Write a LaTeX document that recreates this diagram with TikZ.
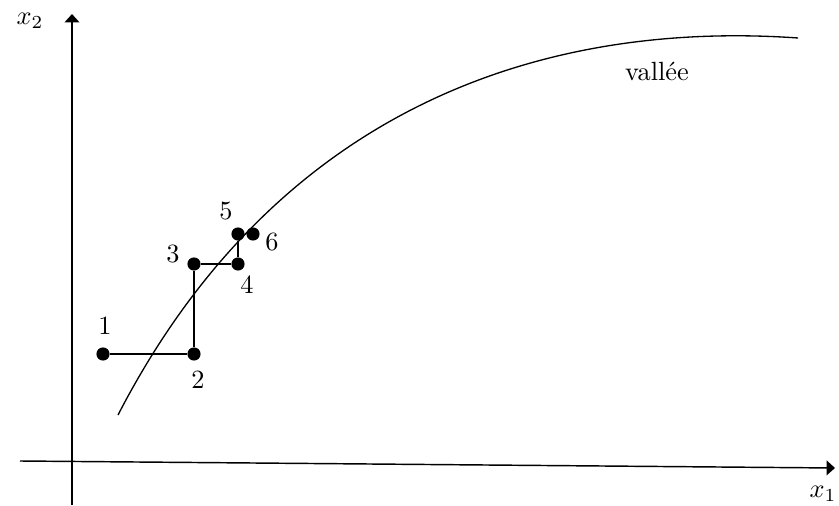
\documentclass[tikz,border=0pt]{standalone}
\usetikzlibrary{arrows.meta}
\begin{document}
\begin{tikzpicture}[x=0.38pt,y=-0.38pt,
  dot/.style={circle,fill=black,inner sep=0pt,minimum size=5pt},
  lbl/.style={inner sep=0pt,font=\normalsize},
  axis/.style={line width=0.55pt,-{Triangle[length=3.2pt,width=5.6pt]}},
  seg/.style={line width=0.5pt}]
\useasboundingbox (0,0) rectangle (839,506);
% axes
\coordinate (xs) at (20,461);
\coordinate (xe) at (835,468);
\coordinate (ys) at (72,505);
\coordinate (ye) at (72,14);
\draw[axis] (xs) -- (xe);
\draw[axis] (ys) -- (ye);
\node[lbl] (x1) at (823,494) {$x_1$};
\node[lbl] (x2) at (30,21) {$x_2$};
% valley curve
\coordinate (c0) at (118,415);
\coordinate (c3) at (798,38);
\draw[line width=0.5pt] (c0) .. controls (279,103.5) and (548,20.5) .. (c3);
\node[lbl] (val) at (657,71) {vall\'ee};
% points
\node[dot] (p1) at (103,354) {};
\node[dot] (p2) at (194,354) {};
\node[dot] (p3) at (194,264) {};
\node[dot] (p4) at (238,264) {};
\node[dot] (p5) at (238,234) {};
\node[dot] (p6) at (253,234) {};
\draw[seg] (p1) -- (p2) -- (p3) -- (p4) -- (p5);
\node[lbl] (l1) at (105,326) {1};
\node[lbl] (l2) at (198,380) {2};
\node[lbl] (l3) at (173,254) {3};
\node[lbl] (l4) at (247,285) {4};
\node[lbl] (l5) at (226,211) {5};
\node[lbl] (l6) at (272,242) {6};
\end{tikzpicture}
\end{document}
